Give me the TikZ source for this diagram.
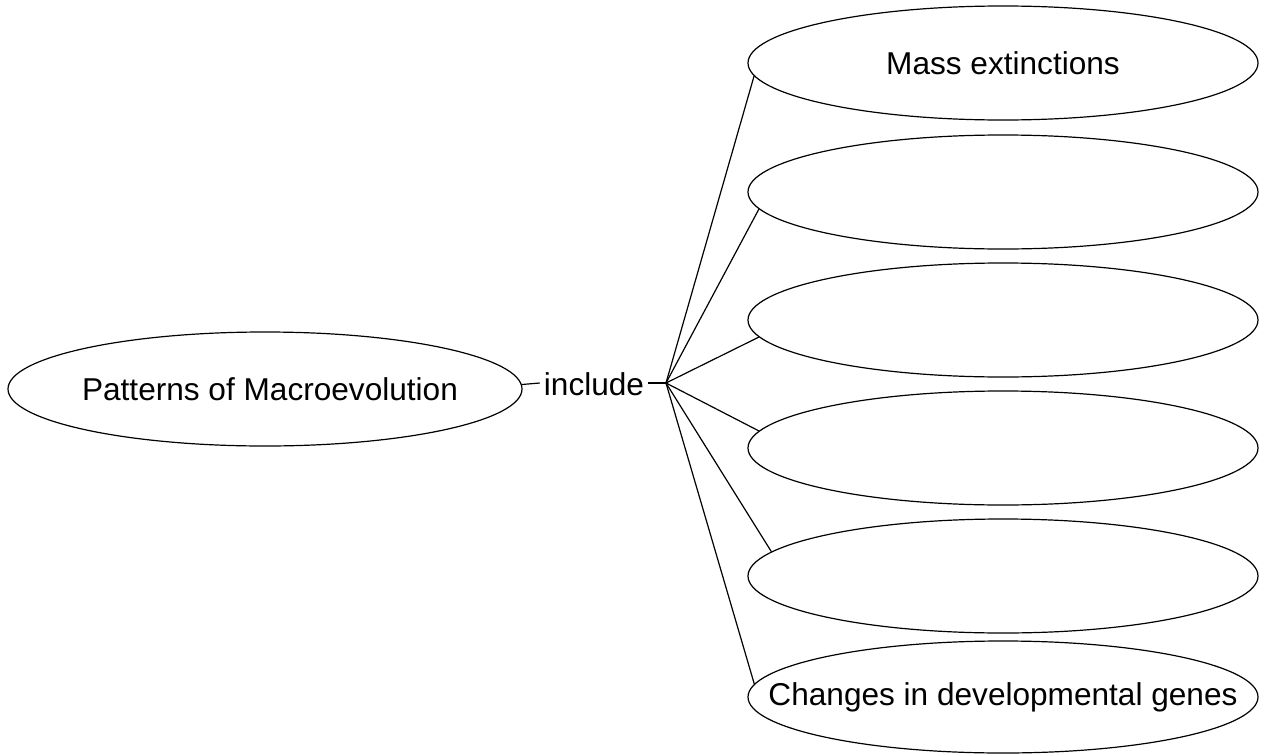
\documentclass[tikz,border=0pt]{standalone}
\usepackage{fontspec}
\setmainfont{Liberation Sans}
\usetikzlibrary{shapes.geometric}
\begin{document}
\begin{tikzpicture}[x=1pt,y=-1pt,
  concept/.style={ellipse,draw,line width=1.2pt,inner sep=0pt,
    minimum width=510pt,minimum height=114pt,
    font=\fontsize{31.6}{37}\selectfont},
  linkword/.style={inner sep=4pt,font=\fontsize{31.6}{37}\selectfont},
  link/.style={line width=1.2pt}]
\useasboundingbox (0,0) rectangle (1262,755);
% ellipse sizes are fixed; the labels are zero-width so they do not stretch them
\node[concept,minimum width=514pt] (root) at (265,389) {\makebox[0pt]{\hspace{10pt}Patterns of Macroevolution}};
\node[linkword,anchor=base] (inc) at (594,395) {include};
\coordinate (hub) at (666,383);
\node[concept] (c1) at (1003,63) {\makebox[0pt]{Mass extinctions}};
\node[concept] (c2) at (1003,192) {};
\node[concept] (c3) at (1003,320) {};
\node[concept] (c4) at (1003,448) {};
\node[concept] (c5) at (1003,576) {};
\node[concept,minimum height=112pt] (c6) at (1003,697) {\makebox[0pt]{Changes in developmental genes}};
\draw[link] (root.1.1) -- (inc.west |- hub);
\draw[link] (inc.east |- hub) -- (hub);
\draw[link] (hub) -- (c1.183.5);
\draw[link] (hub) -- (c2.184.8);
\draw[link] (hub) -- (c3.184.2);
\draw[link] (hub) -- (c4.176.3);
\draw[link] (hub) -- (c5.174.9);
\draw[link] (hub) -- (c6.177.3);
\end{tikzpicture}
\end{document}
